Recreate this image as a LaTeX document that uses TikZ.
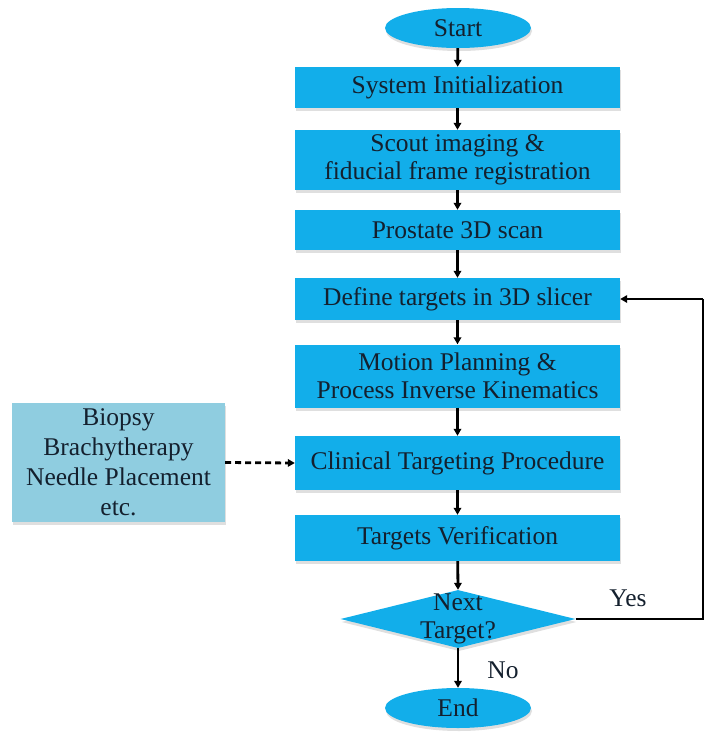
\documentclass[tikz,border=0pt]{standalone}
\usepackage{fontspec}
\setmainfont{Liberation Serif}
\usetikzlibrary{shapes.geometric,arrows.meta,shadows}
\definecolor{mainblue}{HTML}{12AEEA}
\definecolor{sideblue}{HTML}{8FCDE0}
\definecolor{txt}{HTML}{14202E}
\tikzset{
  sh/.style={drop shadow={shadow xshift=1pt,shadow yshift=-3pt,opacity=0.25}},
  procbox/.style={rectangle, fill=mainblue, sh, minimum width=325pt, inner sep=0pt, align=center, text=txt, font=\fontsize{25.5}{28}\selectfont},
  termin/.style={ellipse, fill=mainblue, sh, minimum width=146pt, minimum height=40pt, inner sep=0pt, text=txt, font=\fontsize{25.5}{28}\selectfont},
  sidebox/.style={rectangle, fill=sideblue, sh, minimum width=213pt, minimum height=119pt, inner sep=0pt, align=center, text=txt, font=\fontsize{25.5}{30}\selectfont},
  decis/.style={diamond, fill=mainblue, sh, minimum width=235pt, minimum height=58pt, inner sep=0pt},
  lbl/.style={text=txt, font=\fontsize{25.5}{28}\selectfont, align=center},
  arr/.style={-{Triangle[length=7pt,width=7.5pt]}, line width=2.8pt, black},
  plain/.style={line width=2.5pt, black},
}
\begin{document}
\begin{tikzpicture}[x=1pt,y=-1pt]
\useasboundingbox (0,0) rectangle (705,732);
\node[termin] (start) at (458,28) {Start};
\node[procbox, minimum height=41pt] (init) at (457.5,87.5) {System Initialization};
\node[procbox, minimum height=60pt] (scout) at (457.5,160) {Scout imaging \&\\fiducial frame registration};
\node[procbox, minimum height=40pt] (scan) at (457.5,230) {Prostate 3D scan};
\node[procbox, minimum height=42pt] (define) at (457.5,299) {Define targets in 3D slicer};
\node[procbox, minimum height=63pt] (motion) at (457.5,376) {Motion Planning \&\\Process Inverse Kinematics};
\node[procbox, minimum height=54pt] (clin) at (457.5,463) {Clinical Targeting Procedure};
\node[procbox, minimum height=46pt] (verif) at (457.5,538) {Targets Verification};
\node[decis] (dec) at (458,619) {};
\node[lbl] (dectxt) at (458,619) {Next\\Target?};
\node[termin] (end) at (458,708) {End};
\node[sidebox] (side) at (118.5,462.5) {Biopsy\\Brachytherapy\\Needle Placement\\etc.};
\node[lbl] (yes) at (628,598) {Yes};
\node[lbl] (no) at (503,670) {No};
\coordinate (c1) at (703,619);
\coordinate (c2) at (703,299);
\draw[arr] (start) -- (init);
\draw[arr] (init) -- (scout);
\draw[arr] (scout) -- (scan);
\draw[arr] (scan) -- (define);
\draw[arr] (define) -- (motion);
\draw[arr] (motion) -- (clin);
\draw[arr] (clin) -- (verif);
\draw[arr] (verif) -- (dec.north);
\draw[arr] (dec.south) -- (end);
\draw[plain] (dec.east) -- (c1) -- (c2);
\draw[arr] (c2) -- (define.east);
\draw[arr, dash pattern=on 6pt off 4pt] (side.east) -- (clin.west);
\end{tikzpicture}
\end{document}
